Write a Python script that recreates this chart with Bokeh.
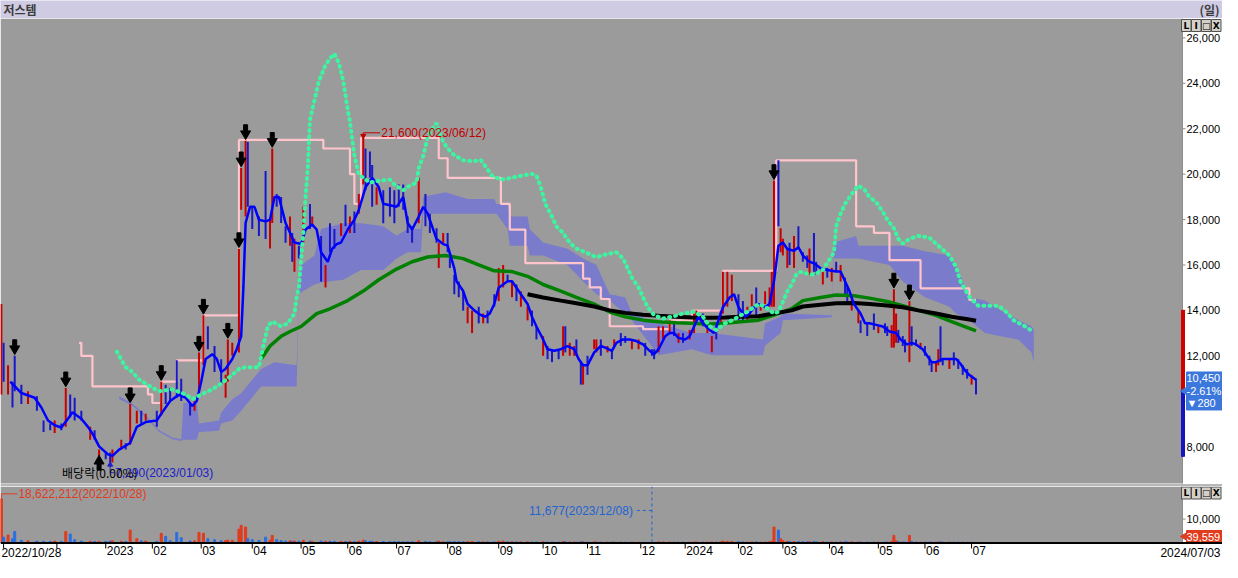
from bokeh.plotting import figure
from bokeh.models import Range1d, BoxAnnotation, ColumnDataSource
from bokeh.layouts import column
from bokeh.embed import file_html
from bokeh.resources import INLINE
from bokeh.core.properties import value

# ============================ DATA ============================
stock_name = "저스템"
period_name = "(일)"

month_days = [47, 68, 90, 113, 135, 156, 178, 201, 224, 244, 264, 288, 308, 332, 352, 373, 395, 416, 437]
month_labels = ["2023", "02", "03", "04", "05", "06", "07", "08", "09", "10", "11", "12",
                "2024", "02", "03", "04", "05", "06", "07"]
unlabeled_tick_days = [1, 25]
start_date = "2022/10/28"
end_date = "2024/07/03"

price_ticks = [8000, 10000, 12000, 14000, 16000, 18000, 20000, 22000, 24000, 26000]
volume_ticks = [10_000_000]
volume_tick_labels = ["10,000"]

# ---- candles (bar index, high, low, up=1/down=0, volume) ----
day_a = [0, 1, 3, 5, 6, 9, 12, 16, 19, 22, 24, 27, 29, 31, 33, 36, 40, 42, 44, 47,
         49, 50, 54, 56, 58, 61, 63, 65, 70, 72, 74, 76, 79, 81, 85, 87, 89, 91, 93, 96,
         99, 101, 102, 104, 107, 108, 110, 111, 113, 116, 119, 121, 122, 124, 126, 128, 130, 131, 132, 134,
         136, 139, 140, 144, 146, 148, 150, 153, 155, 157, 159, 161, 163, 164, 166, 167, 169, 172, 175, 177]
high_a = [14280, 12570, 11580, 10860, 12000, 10720, 10440, 10220, 9150, 9020, 9150, 9020, 10580, 10300, 10150, 9580, 8870, 8720, 7870, 7740,
          7740, 7870, 8300, 8150, 9880, 9580, 9580, 9450, 9580, 10860, 10720, 10580, 11800, 10990, 9920, 10010, 12150, 13780, 13300, 12430,
          11850, 11160, 12720, 12570, 16710, 20270, 21470, 21420, 18560, 18130, 20140, 18000, 21130, 19120, 18990, 17700, 18130, 17410, 17150, 16850,
          18560, 18690, 18130, 17280, 16000, 17840, 17580, 17840, 18650, 18130, 18350, 19120, 21600, 21130, 21000, 20400, 19420, 19290, 19420, 19290]
low_a = [10300, 10860, 10300, 9720, 10440, 9880, 9880, 9580, 8640, 8720, 8600, 8720, 8870, 9280, 9150, 9150, 8300, 8300, 7580, 7440,
         7290, 7300, 7870, 7870, 8080, 9020, 9020, 9150, 8870, 9370, 9880, 10010, 10150, 10010, 9370, 9580, 10300, 11580, 12290, 11290,
         10730, 10150, 10860, 12000, 12150, 18430, 18130, 18560, 17580, 17280, 17140, 16720, 17850, 18560, 17850, 16980, 16850, 16140, 15700, 16290,
         16980, 17580, 17700, 15270, 15010, 16560, 16720, 17280, 17700, 17410, 17410, 18260, 19540, 19290, 19840, 18560, 18650, 17840, 18130, 17840]
up_a = [1, 0, 1, 0, 0, 0, 1, 0, 0, 0, 1, 0, 1, 0, 0, 0, 1, 0, 1, 0,
        0, 1, 1, 0, 1, 1, 0, 1, 0, 1, 0, 0, 0, 0, 0, 1, 1, 1, 0, 0,
        0, 1, 1, 1, 1, 1, 1, 0, 0, 0, 0, 1, 1, 0, 0, 0, 1, 0, 1, 0,
        1, 0, 1, 0, 1, 0, 0, 1, 0, 1, 0, 1, 1, 0, 0, 0, 1, 0, 0, 0]
vol_a = [18622212, 2300000, 3200000, 1600000, 4700000, 900000, 700000, 600000, 500000, 450000,
         600000, 500000, 4700000, 3600000, 1200000, 600000, 500000, 400000, 500000, 450000,
         600000, 700000, 500000, 400000, 5300000, 1600000, 700000, 600000, 500000, 3900000,
         2600000, 800000, 4300000, 2000000, 600000, 700000, 4300000, 3900000, 1600000, 1200000,
         700000, 800000, 1000000, 900000, 5700000, 7300000, 6600000, 1600000, 1200000, 900000,
         2300000, 1000000, 3000000, 1200000, 800000, 600000, 700000, 500000, 600000, 500000,
         900000, 600000, 500000, 600000, 500000, 500000, 400000, 500000, 400000, 500000,
         400000, 600000, 1000000, 700000, 500000, 500000, 400000, 400000, 350000, 350000]

day_b = [179, 181, 183, 185, 188, 191, 193, 196, 197, 199, 201, 202, 204, 206, 208, 210, 212, 215, 217, 219,
         222, 224, 226, 228, 230, 232, 234, 237, 239, 241, 244, 246, 248, 251, 253, 254, 256, 258, 259, 261,
         262, 264, 267, 268, 270, 273, 275, 276, 279, 281, 284, 287, 290, 293, 294, 296, 298, 301, 303, 305,
         307, 310, 312, 313, 316, 318, 320, 322, 324, 325, 327, 329, 332, 334, 336, 338, 340, 342, 344, 346,
         347, 348, 350, 351, 352, 354, 355]
high_b = [19540, 19540, 18130, 17700, 19840, 19120, 18260, 17620, 16980, 17410,
          17410, 16560, 15570, 15270, 14840, 14160, 13990, 14160, 13860, 13990,
          14710, 15870, 16000, 15570, 15270, 15140, 14840, 14160, 13990, 13300,
          12870, 12430, 12290, 12290, 13300, 13300, 12570, 12430, 12720, 11720,
          11580, 12000, 12720, 12720, 12720, 12430, 12290, 12720, 13000, 12870,
          12720, 12720, 12570, 12290, 12290, 13300, 13300, 13560, 13430, 13000,
          13000, 13140, 13860, 13990, 13860, 13430, 12870, 13300, 13990, 15700,
          15700, 15570, 14710, 14410, 14160, 14710, 15010, 14280, 14840, 15010,
          15700, 19710, 20610, 17620, 17150, 16720, 16980]
low_b = [18560, 18430, 17410, 16980, 17840, 17700, 17410, 16980, 15870, 16980,
         16560, 15870, 14710, 14580, 13990, 13430, 13000, 13430, 13430, 13430,
         14160, 14410, 15010, 15270, 14580, 14410, 14160, 13560, 13300, 12720,
         12000, 11850, 11720, 11850, 12000, 12150, 12000, 12000, 12000, 10730,
         10730, 11160, 12290, 12150, 12000, 12150, 11850, 12430, 12430, 12570,
         12290, 12290, 12000, 12000, 11850, 12150, 12720, 13000, 12870, 12570,
         12570, 12720, 13000, 13430, 13300, 13000, 12150, 12720, 13430, 13860,
         14160, 14410, 13560, 13560, 13560, 14160, 13730, 13990, 14280, 14160,
         14160, 14160, 17700, 16560, 16420, 15870, 16000]
up_b = [0, 0, 0, 0, 1, 0, 0, 0, 1, 1, 0, 0, 0, 0, 0, 1, 1, 0, 1, 0,
        0, 1, 1, 0, 1, 0, 1, 1, 0, 0, 1, 0, 0, 0, 1, 0, 1, 1, 0, 0,
        1, 0, 1, 1, 0, 1, 0, 1, 0, 0, 1, 1, 0, 0, 0, 1, 1, 1, 0, 1,
        0, 1, 1, 1, 0, 1, 1, 0, 1, 1, 1, 1, 0, 0, 1, 1, 0, 1, 1, 1,
        1, 1, 0, 1, 1, 1, 0]
vol_b = [350000, 300000, 300000, 300000, 700000, 400000, 300000, 300000, 600000, 300000,
         300000, 300000, 350000, 300000, 300000, 350000, 400000, 300000, 250000, 250000,
         250000, 500000, 600000, 300000, 300000, 250000, 250000, 250000, 200000, 200000,
         300000, 200000, 200000, 150000, 400000, 300000, 200000, 200000, 150000, 300000,
         300000, 200000, 250000, 200000, 150000, 150000, 150000, 200000, 150000, 120000,
         150000, 150000, 100000, 11677, 100000, 250000, 200000, 200000, 150000, 150000,
         150000, 150000, 200000, 250000, 150000, 200000, 250000, 150000, 250000, 600000,
         500000, 450000, 300000, 250000, 200000, 250000, 300000, 150000, 200000, 300000,
         500000, 6600000, 5300000, 1600000, 800000, 500000, 400000]

day_c = [357, 359, 361, 363, 364, 366, 367, 370, 372, 374, 376, 378, 380, 381, 383, 386, 387, 390, 393, 395,
         398, 399, 401, 402, 403, 404, 406, 407, 409, 410, 412, 414, 416, 418, 419, 421, 422, 423, 424, 427,
         429, 431, 433, 435, 437, 439]
high_c = [17280, 17700, 16560, 16420, 16720, 17410, 16140, 15870, 15870, 15870,
          16140, 16000, 15440, 15010, 14710, 13990, 13560, 13430, 13860, 13300,
          13430, 13300, 13350, 14930, 13860, 13140, 12870, 12720, 14410, 13300,
          12720, 12570, 12430, 12000, 11720, 11720, 12290, 13300, 11850, 11850,
          12150, 11850, 11580, 11420, 11160, 10990]
low_c = [15870, 16720, 16140, 15870, 15570, 15700, 15570, 15140, 15440, 15270,
         15700, 15270, 14710, 14280, 13990, 13430, 13000, 12870, 13140, 13000,
         13000, 12870, 12360, 12360, 12570, 12570, 12430, 12150, 11720, 12430,
         12430, 12290, 12000, 11580, 11290, 11290, 11580, 11720, 11580, 11420,
         11580, 11420, 11160, 10990, 10730, 10300]
up_c = [1, 0, 0, 0, 1, 0, 0, 1, 0, 1, 0, 1, 0, 0, 1, 1, 0, 0, 0, 1,
        0, 0, 1, 1, 1, 0, 0, 0, 1, 0, 0, 1, 0, 0, 0, 1, 1, 0, 0, 1,
        0, 0, 0, 0, 1, 0]
vol_c = [400000, 400000, 300000, 250000, 300000, 400000, 250000, 300000, 200000, 250000,
         200000, 250000, 300000, 250000, 300000, 200000, 200000, 150000, 200000, 150000,
         150000, 150000, 500000, 3000000, 700000, 300000, 200000, 150000, 3000000, 400000,
         200000, 150000, 150000, 200000, 150000, 150000, 200000, 300000, 150000, 150000,
         150000, 120000, 100000, 120000, 100000, 39559]

# ---- 5-bar moving average (blue) ----
ma5_day = [4, 9, 15, 18, 21, 24, 27, 30, 32, 36, 39, 41, 44, 48, 50, 53, 58, 61, 65, 70,
           72, 76, 80, 83, 86, 88, 90, 92, 95, 97, 99, 101, 104, 106, 108, 109, 110, 112, 114, 116,
           119, 121, 123, 125, 128, 130, 132, 135, 137, 140, 142, 144, 147, 149, 151, 153, 156, 159, 161, 164,
           167, 170, 172, 175, 178, 181, 183, 185, 188, 190, 192, 194, 196, 199, 201, 204, 205, 208, 210, 213,
           216, 218, 220, 222, 224, 228, 230, 232, 234, 237, 239, 241, 244, 246, 249, 252, 255, 258, 260, 262,
           264, 267, 270, 272, 275, 277, 280, 283, 286, 289, 292, 294, 296, 299, 301, 303, 305, 308, 310, 312,
           314, 316, 319, 321, 323, 325, 328, 330, 332, 335, 337, 339, 341, 344, 346, 348, 350, 352, 354, 357,
           359, 361, 364, 366, 369, 372, 376, 378, 380, 382, 384, 387, 389, 391, 394, 397, 400, 403, 405, 408,
           410, 412, 415, 417, 419, 421, 424, 427, 430, 432, 434, 436, 439]
ma5 = [10860, 10360, 10150, 9720, 9150, 8940, 8840, 9230, 9510, 9230, 8870, 8580, 8010, 7660, 7590, 7870, 8160, 8870, 9080, 9150,
       9440, 10010, 10290, 10150, 9790, 10010, 10860, 11860, 12070, 11860, 11290, 11430, 11860, 12290, 12860, 15000, 17850, 18560, 18560, 17990,
       17920, 17990, 18990, 18990, 17850, 17420, 16990, 16920, 17560, 17780, 17560, 16560, 16140, 16710, 16920, 16990, 17560, 17990, 18420, 19420,
       19840, 19420, 18700, 18630, 18560, 18990, 17850, 17560, 18130, 18560, 18270, 17700, 17140, 16920, 16850, 15850, 15280, 14850, 14280, 14000,
       13790, 13720, 13860, 14280, 15000, 15280, 15280, 15000, 14710, 14280, 13720, 13290, 12720, 12290, 12220, 12290, 12430, 12290, 11860, 11580,
       11580, 12150, 12430, 12360, 12220, 12570, 12720, 12720, 12650, 12500, 12220, 12070, 12290, 12860, 13000, 13000, 12790, 12720, 12860, 13290,
       13720, 13430, 13140, 13000, 13570, 14140, 14570, 14710, 14140, 13720, 13860, 14140, 14280, 14140, 14280, 15280, 16850, 16990, 16700, 16630,
       16780, 16420, 16140, 16070, 15850, 15780, 15710, 15710, 15280, 14850, 14280, 13860, 13430, 13430, 13360, 13290, 13070, 13000, 12720, 12500,
       12570, 12500, 12290, 12000, 11720, 11720, 11860, 11860, 11860, 11650, 11360, 11150, 10940]

# ---- long moving averages ----
ma_green_day = [117, 121, 126, 130, 135, 142, 148, 156, 163, 170, 178, 185, 192, 200, 208, 215, 222, 230, 237, 244,
                252, 259, 267, 274, 281, 289, 296, 304, 311, 319, 326, 333, 341, 348, 356, 361, 369, 376, 384, 391,
                399, 406, 413, 421, 428, 436, 439]
ma_green = [11860, 12430, 12860, 13070, 13290, 13860, 14070, 14430, 14850, 15350, 15820, 16140, 16350, 16420, 16280, 16000, 15740, 15710, 15500, 15140,
            14850, 14570, 14280, 13930, 13720, 13570, 13500, 13460, 13430, 13400, 13430, 13500, 13570, 13790, 14080, 14430, 14570, 14680, 14640, 14540,
            14390, 14210, 14000, 13780, 13500, 13210, 13100]
ma_black_day = [237, 244, 252, 259, 267, 274, 281, 289, 296, 304, 311, 319, 326, 333, 341, 348, 356, 361, 369, 376,
                384, 391, 399, 406, 413, 421, 428, 436, 439]
ma_black = [14710, 14570, 14430, 14310, 14170, 14000, 13890, 13810, 13760, 13720, 13690, 13670, 13690, 13720, 13740, 13860, 14000, 14170, 14250, 14310,
            14330, 14280, 14210, 14140, 14000, 13860, 13720, 13600, 13540]

# ---- pink step line (rolling high) ----
pink_day = [35, 36, 41, 66, 68, 72, 79, 91, 107, 145, 157, 159, 162, 197, 201, 225, 229, 236, 262, 265,
            270, 274, 289, 301, 311, 325, 349, 385, 393, 400, 414, 436, 439]
pink_val = [12570, 12000, 10650, 10300, 9920, 10860, 11800, 13780, 21510, 21130, 20000, 18690, 21600, 20700, 19840, 18690, 17560, 16080, 15400, 15010,
            14500, 13300, 13170, 13560, 13990, 15740, 20610, 17700, 17410, 16210, 14970, 14460, 14460]

# ---- green dotted line ----
dot_day = [52, 54, 56, 59, 62, 67, 71, 77, 83, 86, 90, 95, 99, 104, 107, 110, 116, 118, 120, 122,
           126, 129, 132, 133, 134, 136, 137, 138, 139, 141, 143, 146, 148, 150, 152, 154, 156, 157, 158, 159,
           161, 163, 166, 170, 175, 177, 181, 184, 187, 188, 190, 191, 192, 194, 196, 199, 201, 204, 208, 212,
           216, 218, 221, 225, 230, 234, 239, 241, 243, 245, 248, 250, 253, 256, 259, 263, 268, 272, 277, 280,
           282, 284, 287, 289, 291, 294, 298, 302, 307, 312, 316, 319, 322, 326, 329, 332, 336, 341, 344, 348,
           350, 352, 354, 356, 358, 360, 361, 366, 370, 375, 376, 378, 380, 383, 386, 389, 391, 394, 397, 399,
           402, 404, 406, 409, 413, 418, 422, 427, 430, 432, 436, 440, 444, 449, 452, 456, 461, 465]
dot_val = [12180, 11830, 11500, 11290, 10950, 10650, 10440, 10520, 10300, 10090, 10300, 10520, 10780, 11160, 11420, 11500, 11500, 12450, 13300, 13510,
           13300, 13430, 13860, 14590, 15010, 17410, 18990, 20270, 22410, 23260, 24100, 24800, 25100, 25300, 24900, 24100, 22840, 22320, 21550, 20830,
           19970, 19840, 19630, 19710, 19760, 19540, 19290, 19500, 19630, 20270, 20800, 21210, 21640, 21980, 22240, 21420, 21130, 20830, 20610, 20570,
           20610, 20350, 19930, 19760, 19840, 19930, 20010, 19930, 19420, 18690, 18130, 17700, 17410, 16980, 16720, 16560, 16340, 16460, 16560, 16290,
           15870, 15440, 15010, 14580, 14160, 13790, 13640, 13720, 13860, 13940, 13720, 13300, 13130, 13430, 13560, 13720, 13940, 14280, 14160, 13860,
           13940, 14370, 14840, 15140, 15570, 15700, 15650, 15570, 15780, 16550, 17700, 18260, 18690, 19120, 19500, 19290, 18990, 18770, 18350, 18000,
           17620, 17150, 16940, 17150, 17280, 17200, 16850, 16420, 15910, 15270, 14590, 14200, 14200, 14200, 13990, 13560, 13300, 13040]

# ---- cloud (upper / lower span) ----
cloud_day = [53, 59, 65, 71, 77, 81, 82, 88, 89, 98, 99, 104, 108, 117, 123, 133, 134, 135, 141, 144,
             154, 162, 172, 178, 183, 189, 190, 200, 210, 222, 223, 228, 229, 237, 238, 244, 255, 262, 268, 274,
             281, 284, 296, 311, 320, 343, 344, 351, 352, 374, 375, 385, 386, 400, 406, 416, 427, 430, 436, 443,
             450, 458, 464, 465]
cloud_top = [10220, 9900, 9380, 8730, 8400, 8320, 9920, 9920, 9020, 9150, 9500, 10090, 10350, 11420, 11720, 11580, 15000, 15990, 16420, 17580,
             17840, 17840, 17700, 17300, 17580, 17580, 19000, 19200, 18900, 18900, 18690, 18690, 18130, 18130, 17580, 16990, 16710, 16290, 16000, 14710,
             14580, 13860, 13430, 13000, 13000, 12720, 13430, 13720, 13860, 13790, 16990, 17280, 16850, 16850, 16850, 16600, 16420, 15990, 14580, 14440,
             14000, 13580, 13300, 13150]
cloud_bot = [10100, 9800, 9280, 8650, 8320, 8250, 8300, 8300, 8640, 8700, 9020, 9150, 9580, 10650, 10650, 10650, 14700, 14800, 15140, 15230,
             15350, 15780, 15780, 16290, 16560, 16560, 18260, 18260, 18260, 18260, 18260, 17580, 16850, 16850, 16420, 16420, 15990, 15280, 14710, 14420,
             13850, 13570, 12020, 12290, 12020, 12020, 12450, 13000, 13560, 13700, 16290, 16290, 16290, 16000, 15270, 14580, 14160, 13860, 13560, 13000,
             12860, 12720, 12150, 11720]

# ---- signal arrows, events, quote box ----
signal_days = [6, 29, 58, 72, 89, 91, 102, 107, 108, 110, 122, 348, 402, 409]
exdiv_day = 44
exdiv_text = "배당락(0.00%)"
high_date = "2023/06/12"
low_date = "2023/01/03"
vol_high_date = "2022/10/28"
vol_low_date = "2023/12/08"
last_close = 10450
last_change = -280
last_pct = -2.61
scale_bar_top = 14000
scale_bar_bottom = 7570
pane_buttons = ["L", "I", "□", "X"]

# ============================ STYLE / LAYOUT ============================
FONT = "Liberation Sans"
KFONT = "Noto Sans CJK KR"
FS = "12px"
FS_R = "11px"
BG = "#9b9b9b"
W = 1222
TITLE_H = 18
PRICE_FRAME_H = 465
GAP = 3
VOL_FRAME_H = 56
XAXIS_H = 20
RIGHT_W = 40
X0, X1 = -0.4, 532.0
P_LO, P_HI = 6375, 26855
V_TOP = 23_900_000

pxpd = (W - RIGHT_W) / (X1 - X0)          # pixels per bar
ppx = (P_HI - P_LO) / PRICE_FRAME_H       # price per pixel
vpp = V_TOP / VOL_FRAME_H                 # volume per pixel
XR_END = X0 + W / pxpd                    # right edge of canvas in bar units

def px(n):
    """horizontal screen pixels -> bar units"""
    return n / pxpd

cd_day = day_a + day_b + day_c
cd_high = high_a + high_b + high_c
cd_low = low_a + low_b + low_c
cd_up = up_a + up_b + up_c
cd_vol = vol_a + vol_b + vol_c

xr = Range1d(X0, XR_END)

def base_fig(height, yr):
    f = figure(width=W, height=height, x_range=xr, y_range=yr,
               x_axis_location=None, y_axis_location=None, toolbar_location=None,
               output_backend="svg", min_border=0)
    f.background_fill_color = "white"
    f.border_fill_color = "white"
    f.outline_line_color = None
    f.grid.visible = False
    return f

def txt(fig, x, y, s, color="black", align="left", baseline="middle", font=FONT, size=FS, style="normal", xoff=0):
    fig.text(x=x, y=y, text=s, text_font=value(font), text_font_size=size, text_color=color,
             text_align=align, text_baseline=baseline, text_font_style=style, x_offset=xoff)

# ---------------- title bar ----------------
t = figure(width=W, height=TITLE_H, x_range=Range1d(0, W), y_range=Range1d(0, TITLE_H),
           x_axis_location=None, y_axis_location=None, toolbar_location=None,
           output_backend="svg", min_border=0)
t.background_fill_color = "#cfcbe3"
t.border_fill_color = "#cfcbe3"
t.outline_line_color = None
t.grid.visible = False
txt(t, [3], [TITLE_H / 2], [stock_name], color="#3c3c3c", font=KFONT, size="12px", style="bold")
txt(t, [W - 3], [TITLE_H / 2], [period_name], color="#3c3c3c", font=KFONT, size="12px", style="bold", align="right")

# ---------------- price pane ----------------
p = base_fig(PRICE_FRAME_H + GAP, Range1d(P_LO - GAP * ppx, P_HI))
p.add_layout(BoxAnnotation(left=X0, right=X1, bottom=P_LO, top=P_HI, fill_color=BG, fill_alpha=1,
                           line_color=None, level="underlay"))

p.varea(x=cloud_day, y1=cloud_bot, y2=cloud_top, fill_color="#7b7bcb", fill_alpha=1.0)
p.step(pink_day, pink_val, mode="after", line_color="#ffc4cc", line_width=2.2)

src = ColumnDataSource(dict(x=cd_day, hi=cd_high, lo=cd_low,
                            c=["#c80000" if u else "#1818c8" for u in cd_up],
                            vc=["#e03c1e" if u else "#2a6fe0" for u in cd_up],
                            vol=cd_vol))
p.segment(x0="x", y0="lo", x1="x", y1="hi", line_color="c", line_width=2, source=src)

p.line(ma_green_day, ma_green, line_color="#008000", line_width=3.5)
p.line(ma_black_day, ma_black, line_color="#000000", line_width=4)
p.line(ma5_day, ma5, line_color="#0000ff", line_width=2.5)
p.line(dot_day, dot_val, line_color="#3cf5a0", line_width=4, line_dash="1 5", line_cap="round")

hi_of = dict(zip(cd_day, cd_high))
lo_of = dict(zip(cd_day, cd_low))
sig_hi = [hi_of[d] for d in signal_days]
p.scatter(x=signal_days, y=[h + 7 * ppx for h in sig_hi], marker="inverted_triangle", size=10, color="black")
p.rect(x=signal_days, y=[h + 13 * ppx for h in sig_hi], width=4, height=6,
       width_units="screen", height_units="screen", color="black")

ex_lo = lo_of[exdiv_day]
p.scatter(x=[exdiv_day], y=[ex_lo - 5 * ppx], marker="triangle", size=10, color="black")
p.rect(x=[exdiv_day], y=[ex_lo - 11 * ppx], width=4, height=6,
       width_units="screen", height_units="screen", color="black")

# highest high annotation
i_hi = cd_high.index(max(cd_high))
hx, hy = cd_day[i_hi], cd_high[i_hi]
p.segment(x0=[hx, hx], y0=[hy, hy + 5 * ppx], x1=[hx, hx + px(17)], y1=[hy + 5 * ppx, hy + 5 * ppx],
          line_color="#c00000", line_width=1)
p.scatter(x=[hx], y=[hy + 2 * ppx], marker="inverted_triangle", size=5, color="#c00000")
txt(p, [hx + px(18)], [hy + 5 * ppx], [f"{max(cd_high):,}({high_date})"], color="#c00000")

# lowest low annotation
i_lo = cd_low.index(min(cd_low))
lx, ly = cd_day[i_lo], cd_low[i_lo]
row_y = ly - 10 * ppx
p.segment(x0=[lx, lx], y0=[ly, row_y], x1=[lx, lx + px(4)], y1=[row_y, row_y], line_color="#2020c8", line_width=1)
p.scatter(x=[lx], y=[ly - 2 * ppx], marker="triangle", size=5, color="#2020c8")
txt(p, [lx + px(5)], [row_y], [f"{min(cd_low):,}({low_date})"], color="#2020c8")
txt(p, [exdiv_day - px(37)], [row_y], [exdiv_text], font=KFONT)

# right axis
p.segment(x0=[X1], y0=[P_LO], x1=[X1], y1=[P_HI], line_color="#8c8c8c", line_width=1)
p.segment(x0=[X1] * len(price_ticks), y0=price_ticks, x1=[X1 + px(3)] * len(price_ticks), y1=price_ticks,
          line_color="#8c8c8c", line_width=1)
txt(p, [X1 + px(4)] * len(price_ticks), price_ticks, [f"{v:,}" for v in price_ticks], size=FS_R)
p.segment(x0=[X0], y0=[P_LO - 1.5 * ppx], x1=[XR_END], y1=[P_LO - 1.5 * ppx], line_color="#707070", line_width=1)

# scale bar + quote box
p.quad(left=[X1 - px(1)], right=[X1 + px(2)], top=[scale_bar_top], bottom=[last_close], color="#d00000")
p.quad(left=[X1 - px(1)], right=[X1 + px(2)], top=[last_close], bottom=[scale_bar_bottom], color="#1414c0")
p.quad(left=[X1 + px(4)], right=[XR_END], top=[last_close + 19 * ppx], bottom=[last_close - 19 * ppx],
       color="#3c78dc")
p.scatter(x=[X1 + px(3)], y=[last_close], marker="triangle", angle=1.5708, size=9, color="#3c78dc")
quote_lines = [f"{last_close:,}", f"{last_pct:.2f}%", f"▼{abs(last_change)}"]
txt(p, [X1 + px(4)] * 3, [last_close + 12.5 * ppx, last_close, last_close - 12.5 * ppx], quote_lines,
    color="white", size=FS_R)

def buttons(fig, ytop, ybot):
    n = len(pane_buttons)
    lefts = [X1 - px(1) + px(10) * k for k in range(n)]
    fig.quad(left=lefts, right=[l + px(9.5) for l in lefts], top=[ytop] * n, bottom=[ybot] * n,
             fill_color="#d4d0c8", line_color="#505050", line_width=1)
    txt(fig, [l + px(4.75) for l in lefts], [(ytop + ybot) / 2] * n, pane_buttons, align="center",
        font="DejaVu Sans", size="9px", style="bold")

buttons(p, P_HI - 1 * ppx, P_HI - 13 * ppx)

# ---------------- volume pane ----------------
V_BOT = -XAXIS_H * vpp
v = base_fig(VOL_FRAME_H + XAXIS_H, Range1d(V_BOT, V_TOP))
v.add_layout(BoxAnnotation(left=X0, right=X1, bottom=0, top=V_TOP, fill_color=BG, fill_alpha=1,
                           line_color=None, level="underlay"))
v.vbar(x="x", top="vol", width=0.9, color="vc", source=src)

# volume axis (right)
v.segment(x0=[X1], y0=[0], x1=[X1], y1=[V_TOP], line_color="#8c8c8c", line_width=1)
v.segment(x0=[X1] * len(volume_ticks), y0=volume_ticks, x1=[X1 + px(3)] * len(volume_ticks), y1=volume_ticks,
          line_color="#8c8c8c", line_width=1)
txt(v, [X1 + px(4)] * len(volume_ticks), volume_ticks, volume_tick_labels, size=FS_R)

# max volume annotation
i_vmax = cd_vol.index(max(cd_vol))
mx, my = cd_day[i_vmax], cd_vol[i_vmax]
v.segment(x0=[mx, mx], y0=[my, my + 5 * vpp], x1=[mx, mx + px(16)], y1=[my + 5 * vpp, my + 5 * vpp],
          line_color="#e03c1e", line_width=1)
txt(v, [mx + px(17)], [my + 5 * vpp], [f"{max(cd_vol):,}({vol_high_date})"], color="#e03c1e")

# min volume annotation
i_vmin = cd_vol.index(min(cd_vol))
nx = cd_day[i_vmin]
v.segment(x0=[nx], y0=[0], x1=[nx], y1=[V_TOP], line_color="#1e64d2", line_dash="3 3", line_width=1)
v.segment(x0=[nx - px(15)], y0=[32 * vpp], x1=[nx], y1=[32 * vpp], line_color="#1e64d2",
          line_dash="3 3", line_width=1)
txt(v, [nx - px(19)], [32 * vpp], [f"{min(cd_vol):,}({vol_low_date})"], color="#1e64d2", align="right")

# last volume box
v.quad(left=[X1 + px(4)], right=[XR_END], top=[12 * vpp], bottom=[0.5 * vpp], color="#e03c1e")
v.scatter(x=[X1 + px(3)], y=[6 * vpp], marker="triangle", angle=1.5708, size=9, color="#e03c1e")
txt(v, [X1 + px(4)], [6 * vpp], [f"{cd_vol[-1]:,}"], color="white", size=FS_R)
buttons(v, V_TOP - 0.5 * vpp, V_TOP - 12.5 * vpp)

# x axis (bottom)
all_ticks = unlabeled_tick_days + month_days
v.segment(x0=[X0], y0=[-0.5 * vpp], x1=[XR_END], y1=[-0.5 * vpp], line_color="black", line_width=2)
v.segment(x0=all_ticks, y0=[0] * len(all_ticks), x1=all_ticks, y1=[-6 * vpp] * len(all_ticks),
          line_color="black", line_width=1)
txt(v, month_days, [-3 * vpp] * len(month_days), month_labels, baseline="top", xoff=1)
txt(v, [cd_day[0]], [-3 * vpp], [start_date], baseline="top")
txt(v, [XR_END - px(2)], [-3 * vpp], [end_date], baseline="top", align="right")

page = column(t, p, v, spacing=0)
open("out.html", "w").write(file_html(page, INLINE))
